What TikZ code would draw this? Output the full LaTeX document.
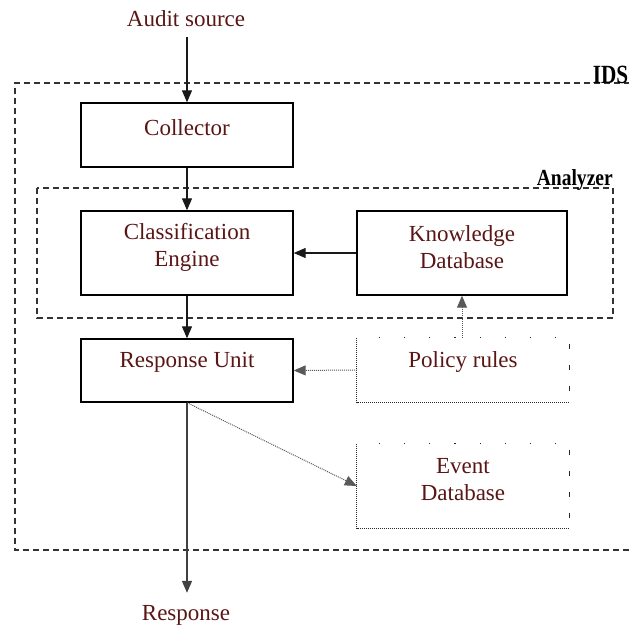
\documentclass[tikz,border=0pt]{standalone}
\usepackage{fontspec}
\setmainfont{Liberation Serif}
\usetikzlibrary{arrows.meta}
\definecolor{txt}{HTML}{5A1515}
\begin{document}
\begin{tikzpicture}[x=1pt,y=-1pt,
  box/.style={draw, line width=1.4pt, minimum width=212pt, inner sep=0pt},
  lbl/.style={font=\fontsize{23}{27}\selectfont, text=txt, inner sep=0pt, align=center},
  grp/.style={font=\bfseries\fontsize{23}{24}\selectfont, inner sep=0pt},
  arr/.style={-{Triangle[length=12pt,width=10pt]}, line width=1.3pt, gray!20!black},
  darr/.style={-{Triangle[length=12pt,width=10pt]}, line width=1pt, densely dotted, gray!70!black},
  frame/.style={dash pattern=on 6pt off 4pt, line width=1.2pt, gray!40!black}]
\useasboundingbox (0,0) rectangle (629,630);
% group frames
\draw[frame] (660,83) -- (15,83) -- (15,550) -- (660,550);
\draw[frame] (37,188) rectangle (613,318);
\node[grp, anchor=south east] (idsl) at (628.5,84) {\scalebox{0.85}[1.05]{\fontsize{25}{26}\selectfont IDS}};
\node[grp, anchor=south east] (anl) at (613,191) {\scalebox{0.85}[1]{Analyzer}};
% texts
\node[lbl] (audit) at (186,19) {Audit source};
\node[lbl] (resp) at (186,615) {Response};
% boxes
\node[box, minimum height=64pt] (coll) at (187,135) {};
\node[box, minimum height=84pt] (cls) at (187,253) {};
\node[box, minimum height=84pt, minimum width=210pt] (kb) at (462,253) {};
\node[box, minimum height=63pt] (ru) at (187,370.5) {};
\node[inner sep=0pt, minimum width=212pt, minimum height=64pt] (pol) at (463,370) {};
\node[inner sep=0pt, minimum width=212pt, minimum height=84pt] (ev) at (463,486) {};
\node[lbl] (collt) at ([yshift=7pt]coll.center) {Collector};
\node[lbl] (clst) at ([yshift=6pt]cls.center) {Classification\\Engine};
\node[lbl] (kbt) at ([yshift=6pt]kb.center) {Knowledge\\Database};
\node[lbl] (rut) at ([yshift=8pt]ru.center) {Response Unit};
\node[lbl] (polt) at ([yshift=8pt]pol.center) {Policy rules};
\node[lbl] (evt) at ([yshift=6pt]ev.center) {Event\\Database};
% dotted frames of policy and event
\foreach \n in {pol,ev}{
  \draw[line width=1pt, densely dotted, gray!30!black] (\n.north west) -- (\n.south west) -- (\n.south east);
  \draw[line width=1.2pt, dash pattern=on 1.2pt off 24pt, gray!30!black] ([xshift=22pt]\n.north west) -- (\n.north east);
  \draw[line width=1pt, dash pattern=on 5pt off 16pt, gray!30!black] ([yshift=-6pt]\n.north east) -- (\n.south east);
}
% connectors
\draw[arr] ([yshift=65pt]coll.north) -- (coll.north);
\draw[arr] (coll.south) -- (cls.north);
\draw[arr] (cls.south) -- (ru.north);
\draw[arr] (kb.west) -- (cls.east);
\draw[darr] (kb.south |- pol.north) -- (kb.south);
\draw[darr] (pol.west) -- (ru.east);
\draw[darr] (ru.south) -- (ev.west);
\draw[arr, line width=1.6pt, gray!50!black] (ru.south) -- ([yshift=12pt]ru.south |- resp.north);
\end{tikzpicture}
\end{document}
